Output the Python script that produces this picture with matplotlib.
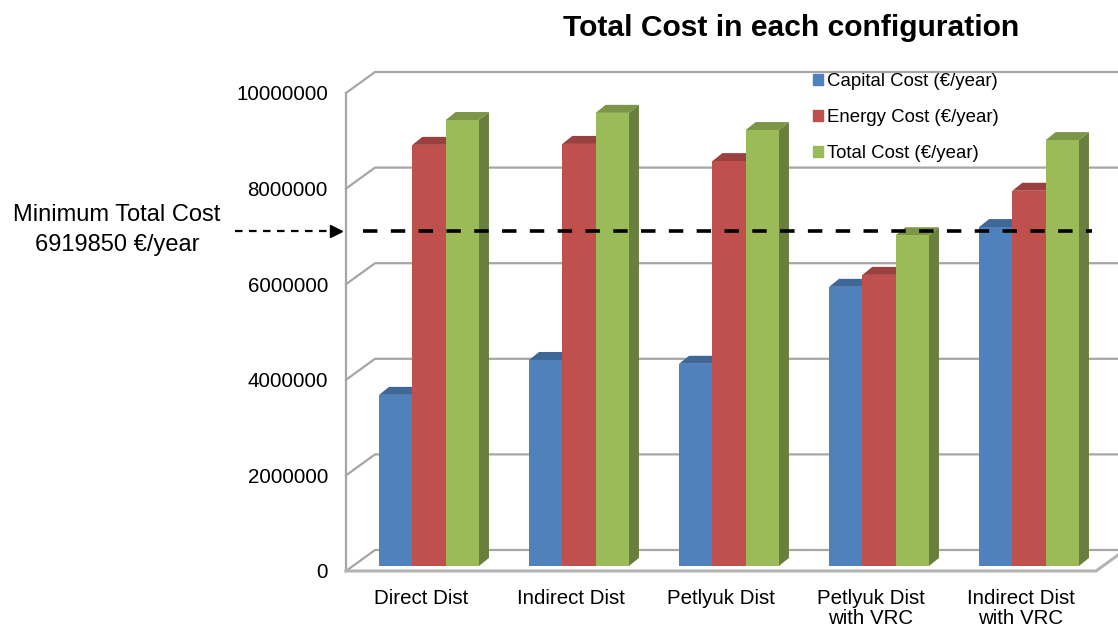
import matplotlib
matplotlib.use('Agg')
import matplotlib.pyplot as plt
from matplotlib.patches import Polygon, Patch
import numpy as np

plt.rcParams['font.family'] = ['Liberation Sans', 'DejaVu Sans']

# data
categories = ['Direct Dist', 'Indirect Dist', 'Petlyuk Dist',
              'Petlyuk Dist\nwith VRC', 'Indirect Dist\nwith VRC']
capital_cost = [3580000, 4310000, 4230000, 5840000, 7090000]
energy_cost = [8810000, 8830000, 8470000, 6090000, 7850000]
total_cost = [9330000, 9480000, 9120000, 6919850, 8910000]
series_names = ['Capital Cost (€/year)', 'Energy Cost (€/year)', 'Total Cost (€/year)']
yticks = [0, 2000000, 4000000, 6000000, 8000000, 10000000]

colors = ['#4F81BD', '#C0504D', '#9BBB59']
grid_color = '#A6A6A6'
min_total = min(total_cost)


def shade(hexcol, f):
    rgb = np.array(matplotlib.colors.to_rgb(hexcol))
    return tuple(rgb * f)


W_PX, H_PX, DPI = 1118, 625, 100
fig = plt.figure(figsize=(W_PX / DPI, H_PX / DPI), dpi=DPI)
ax = fig.add_axes([346 / W_PX, 54 / H_PX, 750 / W_PX, 478 / H_PX])
ax.set_xlim(-0.5, 4.5)
ax.set_ylim(0, 1e7)

# pixel offsets -> data units (for the fake 3d depth)
sx = 750 / 5.0
sy = 478 / 1e7


def dpx(dx, dy):
    return dx / sx, dy / sy


# walls and floor
bx, by = dpx(29, 21)
for t in yticks:
    ax.plot([-0.5, -0.5 + bx, 4.5 + bx], [t, t + by, t + by],
            color=grid_color, lw=1.6, clip_on=False, zorder=1)
ax.plot([-0.5, -0.5], [0, 1e7], color=grid_color, lw=1.6, clip_on=False, zorder=1)
ax.plot([-0.5, 4.5, 4.5 + bx], [0, 0, by], color='#B4B4B4', lw=2.2,
        clip_on=False, zorder=1)

# bars with side and top faces
series = [capital_cost, energy_cost, total_cost]
w = 0.222
ox, oy = dpx(8, 5)
ddx, ddy = dpx(10, 8)
z = 2
for i in range(len(categories)):
    for k, vals in enumerate(series):
        v = vals[i]
        x0 = i + (k - 1.5) * w + ox
        side = Polygon([(x0 + w, oy), (x0 + w + ddx, oy + ddy),
                        (x0 + w + ddx, oy + v + ddy), (x0 + w, oy + v)],
                       closed=True, fc=shade(colors[k], 0.68), ec='none',
                       zorder=z, clip_on=False)
        top = Polygon([(x0, oy + v), (x0 + ddx, oy + v + ddy),
                       (x0 + w + ddx, oy + v + ddy), (x0 + w, oy + v)],
                      closed=True, fc=shade(colors[k], 0.8), ec='none',
                      zorder=z, clip_on=False)
        ax.add_patch(side)
        ax.add_patch(top)
        ax.bar(x0, v, width=w, bottom=oy, align='edge', color=colors[k],
               zorder=z + 0.5, clip_on=False)
        z += 1

# minimum total cost line
lx0 = -0.5 + dpx(17, 0)[0]
lx1 = 4.5 + dpx(-4, 0)[0]
ly = min_total + oy + ddy / 2
ax.plot([lx0, lx1], [ly, ly], color='black', lw=2.6, dashes=(4, 3.7),
        clip_on=False, zorder=100)

# arrow pointing at the axis
ax.plot([-1.24, -0.59], [ly, ly], color='black', lw=1.6, dashes=(3.4, 2.9),
        clip_on=False, zorder=100)
ax.plot([-0.565], [ly], marker='>', color='black', ms=8, clip_on=False, zorder=100)
fig.text(117 / W_PX, 1 - 230 / H_PX,
         'Minimum Total Cost\n%d €/year' % min_total,
         ha='center', va='center', fontsize=17, linespacing=1.42)

# axes text
ax.set_yticks(yticks, [str(t) for t in yticks])
ax.set_xticks(range(len(categories)), categories)
ax.tick_params(axis='y', length=0, pad=13, labelsize=14.8)
ax.tick_params(axis='x', length=0, pad=13, labelsize=14.8)
for lbl in ax.get_xticklabels():
    lbl.set_linespacing(1.07)
for s in ax.spines.values():
    s.set_visible(False)

fig.text(791 / W_PX, 1 - 28 / H_PX, 'Total Cost in each configuration',
         fontsize=21.6, weight='bold', ha='center', va='center')

handles = [Patch(color=c) for c in colors]
fig.legend(handles, series_names, loc='upper left',
           bbox_to_anchor=(813 / W_PX, 1 - 73 / H_PX), frameon=False,
           fontsize=13.4, handlelength=0.55, handleheight=0.55,
           handletextpad=0.2, labelspacing=1.02, borderpad=0, borderaxespad=0)

fig.savefig('out.png', dpi=DPI)
